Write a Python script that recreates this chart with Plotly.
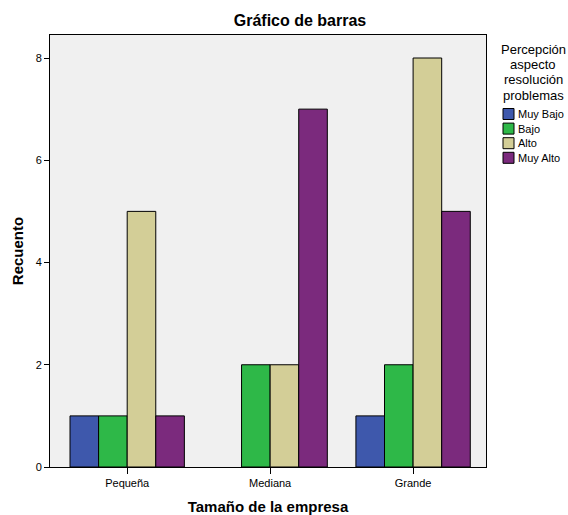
import plotly.graph_objects as go

categories = ["Pequeña", "Mediana", "Grande"]
series_names = ["Muy Bajo", "Bajo", "Alto", "Muy Alto"]
muy_bajo = [1, 0, 1]
bajo = [1, 2, 2]
alto = [5, 2, 8]
muy_alto = [1, 7, 5]
y_ticks = [0, 2, 4, 6, 8]
legend_title_lines = ["Percepción", "aspecto", "resolución", "problemas"]

values = [muy_bajo, bajo, alto, muy_alto]
colors = ["#3E58AC", "#2EB848", "#D3CE97", "#7B2A7D"]

W, H = 568, 515
L, R, T, B = 50, 82, 35, 48
PW, PH = W - L - R, H - T - B


def px(x):
    return (x - L) / PW


def py(y):
    return 1 - (y - T) / PH


fig = go.Figure()
for name, vals, col in zip(series_names, values, colors):
    fig.add_trace(go.Bar(
        x=categories, y=[v if v else None for v in vals], name=name,
        marker=dict(color=col, line=dict(color="black", width=1)),
        showlegend=False,
    ))

font_family = "Liberation Sans, Arial, sans-serif"
fig.update_layout(
    width=W, height=H,
    margin=dict(l=L, r=R, t=T, b=B, autoexpand=False),
    paper_bgcolor="white",
    plot_bgcolor="#F0F0F0",
    barmode="group",
    bargap=0.2,
    bargroupgap=0,
    font=dict(family=font_family, size=11, color="black"),
    title=dict(text="<b>Gráfico de barras</b>", x=300 / W, xanchor="center",
               y=1 - 20 / H, yanchor="middle", font=dict(size=16, color="black")),
    xaxis=dict(
        title=dict(text="<b>Tamaño de la empresa</b>", font=dict(size=15), standoff=18),
        showline=True, linecolor="black", linewidth=1, mirror=True,
        ticks="outside", ticklen=6, tickcolor="black",
        range=[-0.54, 2.51], showgrid=False,
    ),
    yaxis=dict(
        title=dict(text="<b>Recuento</b>", font=dict(size=15), standoff=8),
        showline=True, linecolor="black", linewidth=1, mirror=True,
        ticks="outside", ticklen=5, tickcolor="black",
        tickvals=y_ticks, range=[0, 8.45], showgrid=False, zeroline=False,
    ),
    showlegend=False,
)

# legend title
for i, line in enumerate(legend_title_lines):
    fig.add_annotation(
        text=line, xref="paper", yref="paper", x=px(533), y=py(49 + i * 15.5),
        xanchor="center", yanchor="middle", showarrow=False, font=dict(size=13),
    )
# legend entries
for i, (name, col) in enumerate(zip(series_names, colors)):
    cy = 114 + i * 14.6
    fig.add_shape(type="rect", xref="paper", yref="paper",
                  x0=px(503), x1=px(514), y0=py(cy - 5.5), y1=py(cy + 5.5),
                  fillcolor=col, line=dict(color="black", width=1))
    fig.add_annotation(text=name, xref="paper", yref="paper",
                       x=px(516), y=py(cy), xanchor="left", yanchor="middle",
                       showarrow=False, font=dict(size=11))

fig.write_html("out.html", config={"displayModeBar": False},
               post_script="document.body.style.margin='0';")
